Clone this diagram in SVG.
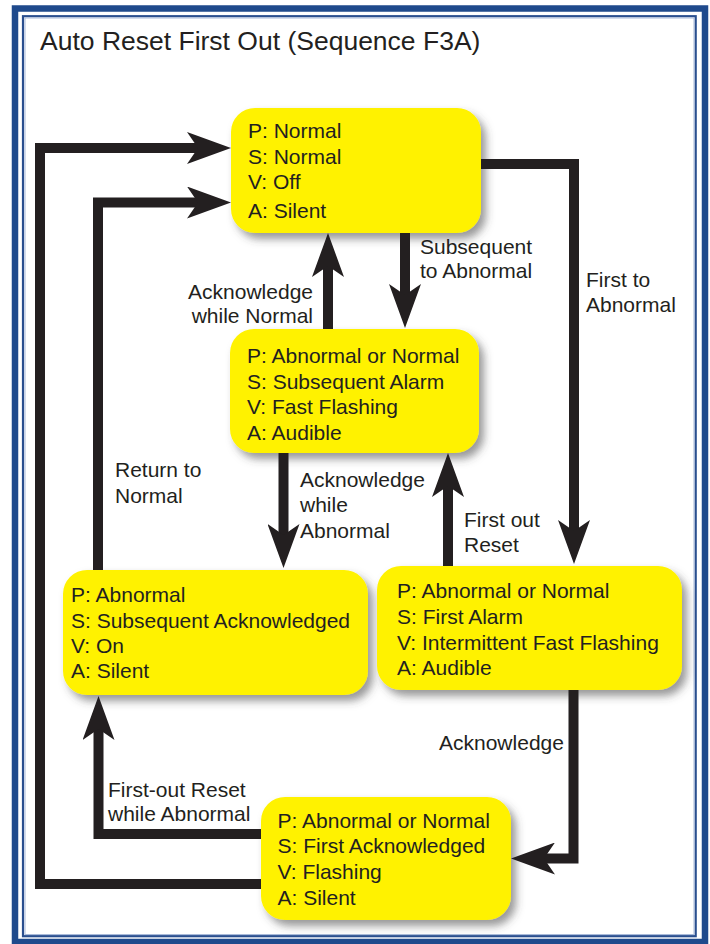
<svg xmlns="http://www.w3.org/2000/svg" width="710" height="944" viewBox="0 0 710 944">
<style>
.frame-outer{fill:none;stroke:#1f4a8c;stroke-width:6.5}
.frame-inner{fill:none;stroke:#2a4f8f;stroke-width:2.2}
.frame-light{fill:none;stroke:#a9bad9;stroke-width:1}
.title{font-family:"Liberation Sans",Arial,sans-serif;font-size:26.5px;fill:#231f20}
.node rect{fill:#fff200;filter:url(#shadow)}
.node text,.lbl{font-family:"Liberation Sans",Arial,sans-serif;font-size:21px;fill:#231f20}
.end{text-anchor:end}
.conn{fill:none;stroke:#231f20;stroke-width:10;stroke-linejoin:miter;marker-end:url(#arrow)}
</style>
<defs>
<filter id="shadow" x="-10%" y="-10%" width="130%" height="140%">
<feDropShadow dx="5" dy="6" stdDeviation="4" flood-color="#444" flood-opacity="0.55"/>
</filter>
<marker id="arrow" markerUnits="userSpaceOnUse" viewBox="0 -16 44 32" markerWidth="44" markerHeight="32" refX="11" refY="0" orient="auto">
<path d="M0,-16 L44,0 L0,16 L11,0 Z" fill="#231f20"/>
</marker>
</defs>
<rect x="0" y="0" width="710" height="944" fill="#fff"/>
<rect class="frame-outer" x="15" y="8.5" width="690" height="933.5"/>
<rect class="frame-inner" x="23" y="16.2" width="672.7" height="920"/>
<rect class="frame-light" x="25" y="18" width="669" height="916.5"/>
<text class="title" x="40" y="50">Auto Reset First Out (Sequence F3A)</text>

<g id="n-normal" class="node">
<rect x="231" y="108" width="250" height="125" rx="24"/>
<text x="248" y="138">P: Normal</text>
<text x="248" y="164">S: Normal</text>
<text x="248" y="189">V: Off</text>
<text x="248" y="218">A: Silent</text>
</g>
<g id="n-subsequent-alarm" class="node">
<rect x="230" y="329" width="249" height="124" rx="24"/>
<text x="247" y="363">P: Abnormal or Normal</text>
<text x="247" y="389">S: Subsequent Alarm</text>
<text x="247" y="414">V: Fast Flashing</text>
<text x="247" y="440">A: Audible</text>
</g>
<g id="n-subsequent-ack" class="node">
<rect x="63" y="570" width="305" height="125" rx="24"/>
<text x="71" y="602">P: Abnormal</text>
<text x="71" y="628">S: Subsequent Acknowledged</text>
<text x="71" y="653">V: On</text>
<text x="71" y="678">A: Silent</text>
</g>
<g id="n-first-alarm" class="node">
<rect x="377" y="566" width="305" height="124" rx="24"/>
<text x="397" y="598">P: Abnormal or Normal</text>
<text x="397" y="624">S: First Alarm</text>
<text x="397" y="650">V: Intermittent Fast Flashing</text>
<text x="397" y="675">A: Audible</text>
</g>
<g id="n-first-ack" class="node">
<rect x="261" y="797" width="250" height="123" rx="24"/>
<text x="277.5" y="828">P: Abnormal or Normal</text>
<text x="277.5" y="853">S: First Acknowledged</text>
<text x="277.5" y="879">V: Flashing</text>
<text x="277.5" y="905">A: Silent</text>
</g>

<g id="connectors">
<path class="conn" d="M481,164 H574 V531"/>
<path class="conn" d="M405,233 V295"/>
<path class="conn" d="M328,329 V266"/>
<path class="conn" d="M283.5,453 V535"/>
<path class="conn" d="M448,566 V486"/>
<path class="conn" d="M573.5,690 V858.5 H544"/>
<path class="conn" d="M261,834 H98.5 V729"/>
<path class="conn" d="M261,884 H40 V148 H198"/>
<path class="conn" d="M98,570 V202.5 H198"/>
</g>

<g id="labels">
<text class="lbl" x="420" y="254">Subsequent</text>
<text class="lbl" x="420" y="278">to Abnormal</text>
<text class="lbl" x="586" y="287">First to</text>
<text class="lbl" x="586" y="312">Abnormal</text>
<text class="lbl end" x="313" y="299">Acknowledge</text>
<text class="lbl end" x="313" y="323">while Normal</text>
<text class="lbl" x="115" y="477">Return to</text>
<text class="lbl" x="115" y="503">Normal</text>
<text class="lbl" x="300" y="487">Acknowledge</text>
<text class="lbl" x="300" y="512">while</text>
<text class="lbl" x="300" y="538">Abnormal</text>
<text class="lbl" x="464" y="527">First out</text>
<text class="lbl" x="464" y="552">Reset</text>
<text class="lbl" x="439" y="750">Acknowledge</text>
<text class="lbl" x="108" y="797">First-out Reset</text>
<text class="lbl" x="108" y="821">while Abnormal</text>
</g>
</svg>
